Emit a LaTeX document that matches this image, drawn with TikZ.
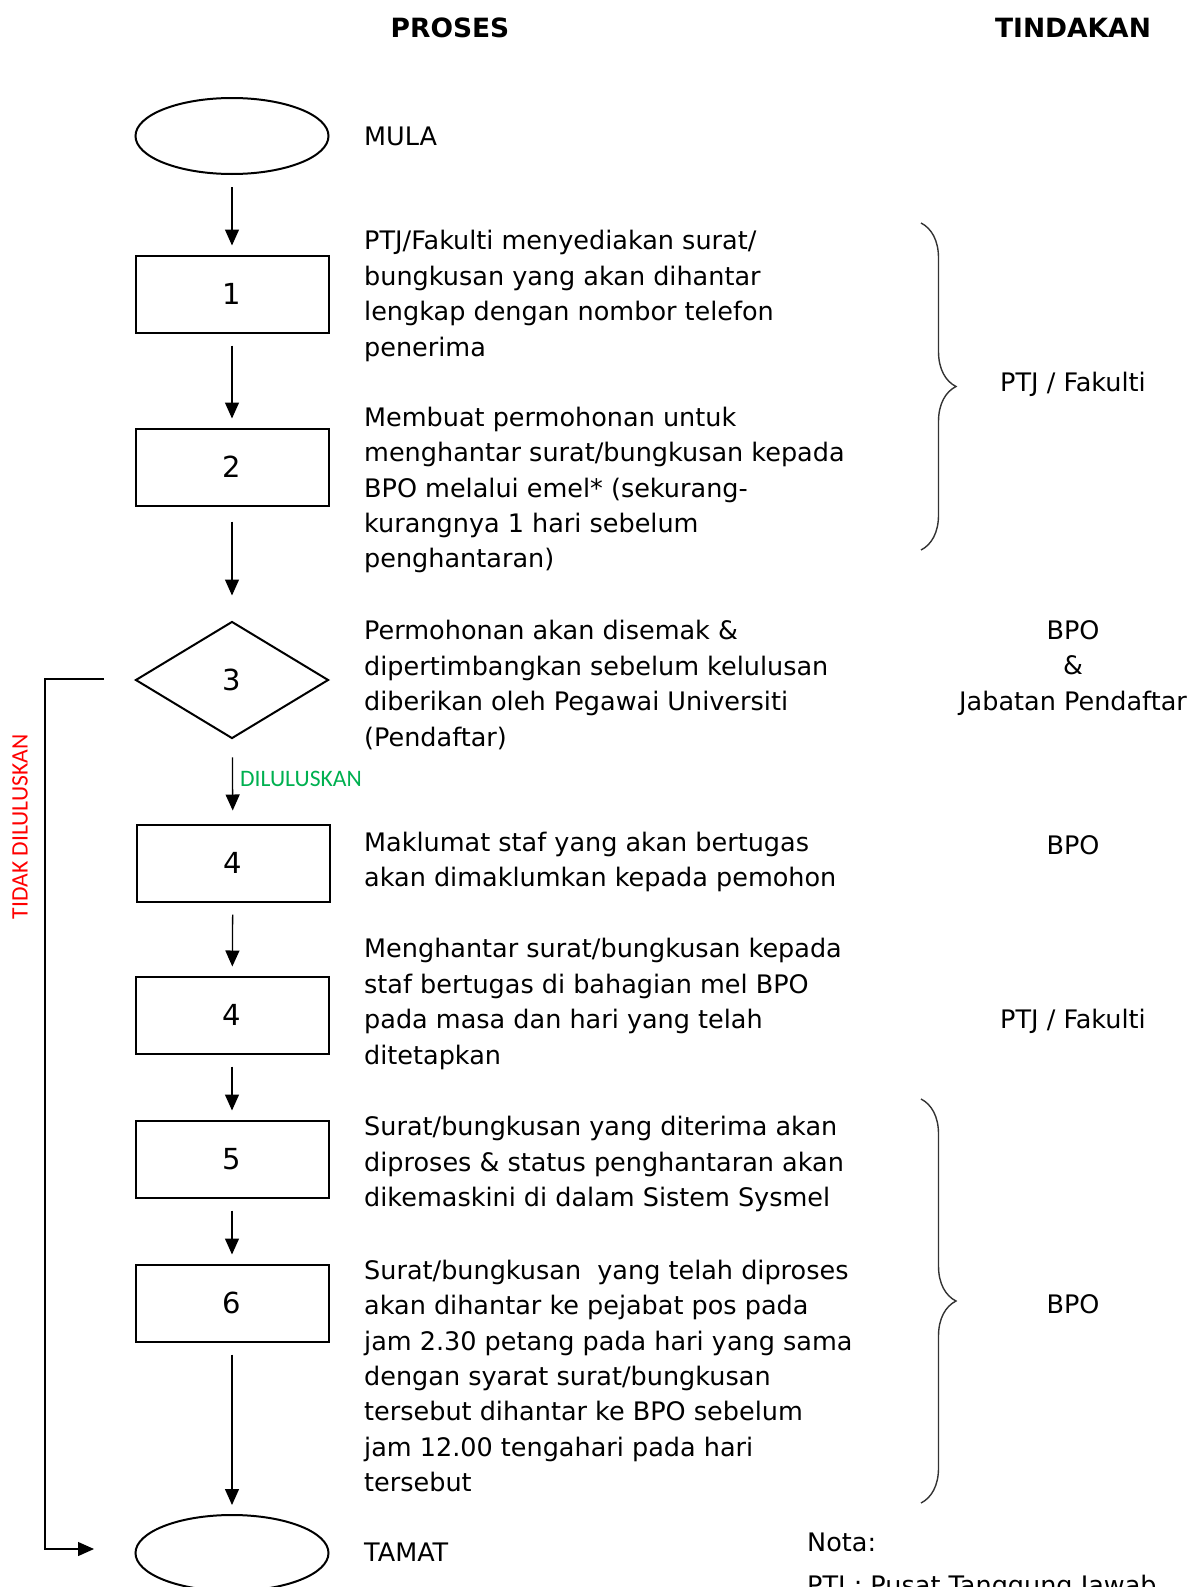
\documentclass[tikz,border=0pt]{standalone}
\usepackage{fontspec}
\setmainfont{DejaVu Sans}
\newfontfamily\calfont{Carlito}
\usetikzlibrary{shapes.geometric,arrows.meta,decorations.pathreplacing}
\definecolor{lulusgreen}{RGB}{0,176,80}
\tikzset{
	txt/.style={font=\fontsize{25.5}{35.4}\selectfont, inner sep=0pt},
	desc/.style={txt, anchor=west, align=left},
	act/.style={txt, align=center},
	hdr/.style={font=\fontsize{26.5}{30}\selectfont\bfseries, inner sep=0pt},
	startstop/.style={draw, ellipse, line width=2pt, minimum width=193pt, minimum height=76pt, inner sep=0pt},
	proc/.style={draw, rectangle, line width=2pt, minimum width=193pt, minimum height=77pt, inner sep=0pt, font=\fontsize{29}{32}\selectfont},
	dec/.style={draw, diamond, line width=2pt, minimum width=193pt, minimum height=117pt, inner sep=0pt, font=\fontsize{29}{32}\selectfont},
	arr/.style={line width=1.3pt, -{Triangle[length=16pt,width=14pt]}, shorten <=12pt, shorten >=9pt},
	brc/.style={line width=1.4pt, black!80, decorate, decoration={brace, amplitude=35pt}},
	lbl/.style={font=\calfont\fontsize{23.6}{26}\selectfont, inner sep=0pt},
}

\begin{document}
\begin{tikzpicture}[x=1pt, y=-1pt]
	\useasboundingbox (0,0) rectangle (1192,1587);

	\node [hdr] (hproses) at (450,28) {PROSES};
	\node [hdr] (htindakan) at (1073,28) {TINDAKAN};

	\node [startstop] (mula) at (232,136) {};
	\node [proc] (p1) at (232,294) {1};
	\node [proc] (p2) at (232,467) {2};
	\node [dec] (d3) at (232,680) {3};
	\node [proc] (p4a) at (233,863) {4};
	\node [proc] (p4b) at (232,1015) {4};
	\node [proc] (p5) at (232,1159) {5};
	\node [proc] (p6) at (232,1303) {6};
	\node [startstop] (tamat) at (232,1553) {};

	\node [desc] (tmula) at (364,136) {MULA};
	\node [desc] (t1) at (364,296) {PTJ/Fakulti menyediakan surat/\\bungkusan yang akan dihantar\\lengkap dengan nombor telefon\\penerima};
	\node [desc] (t2) at (364,490) {Membuat permohonan untuk\\menghantar surat/bungkusan kepada\\BPO melalui emel* (sekurang-\\kurangnya 1 hari sebelum\\penghantaran)};
	\node [desc] (t3) at (364,685) {Permohonan akan disemak \&\\dipertimbangkan sebelum kelulusan\\diberikan oleh Pegawai Universiti\\(Pendaftar)};
	\node [desc] (t4a) at (364,862) {Maklumat staf yang akan bertugas\\akan dimaklumkan kepada pemohon};
	\node [desc] (t4b) at (364,1004) {Menghantar surat/bungkusan kepada\\staf bertugas di bahagian mel BPO\\pada masa dan hari yang telah\\ditetapkan};
	\node [desc] (t5) at (364,1164) {Surat/bungkusan yang diterima akan\\diproses \& status penghantaran akan\\dikemaskini di dalam Sistem Sysmel};
	\node [desc] (t6) at (364,1376) {Surat/bungkusan\ \ yang telah diproses\\akan dihantar ke pejabat pos pada\\jam 2.30 petang pada hari yang sama\\dengan syarat surat/bungkusan\\tersebut dihantar ke BPO sebelum\\jam 12.00 tengahari pada hari\\tersebut};
	\node [desc] (ttamat) at (364,1552) {TAMAT};

	\node [act] (a1) at (1073,384) {PTJ / Fakulti};
	\node [act] (a2) at (1073,668) {BPO\\\&\\Jabatan Pendaftar};
	\node [act] (a3) at (1073,845) {BPO};
	\node [act] (a4) at (1073,1021) {PTJ / Fakulti};
	\node [act] (a5) at (1073,1304) {BPO};

	\draw [arr] (mula) -- (p1);
	\draw [arr] (p1) -- (p2);
	\draw [arr, shorten <=15pt, shorten >=25pt] (p2) -- (d3);
	\draw [arr, shorten <=18pt, shorten >=13pt] (d3) -- (p4a)
		node [lbl, lulusgreen, pos=0.5, anchor=west, xshift=7pt, yshift=2pt] (lulus) {DILULUSKAN};
	\draw [arr] (p4a) -- (p4b);
	\draw [arr] (p4b) -- (p5);
	\draw [arr] (p5) -- (p6);
	\draw [arr] (p6) -- (tamat);

	\coordinate (fbstart) at (104,679);
	\coordinate (fbend) at (94,1549);
	\draw [line width=1.3pt, -{Triangle[length=16pt,width=14pt]}] (fbstart) -- (45,679) |- (fbend);
	\node [lbl, red, rotate=90] (tidak) at (20,827) {TIDAK DILULUSKAN};

	\draw [brc] (921,223) -- (921,550);
	\draw [brc] (921,1099) -- (921,1503);

	\node [txt, anchor=west] (nota) at (807,1542) {Nota:};
	\node [txt, anchor=west] (ptj) at (807,1587) {PTJ : Pusat Tanggung Jawab};
\end{tikzpicture}
\end{document}
